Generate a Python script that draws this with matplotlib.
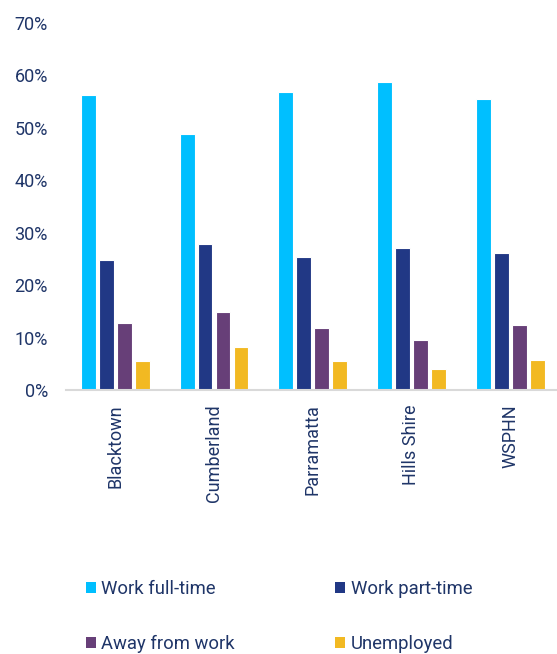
import matplotlib.pyplot as plt
import numpy as np
from matplotlib.patches import Patch
from matplotlib.ticker import PercentFormatter

plt.rcParams['font.family'] = ['Roboto', 'DejaVu Sans']

regions = ['Blacktown', 'Cumberland', 'Parramatta', 'Hills Shire', 'WSPHN']
full_time = [56.2, 48.8, 56.8, 58.8, 55.5]
part_time = [24.8, 27.8, 25.5, 27.1, 26.1]
away = [12.9, 15.0, 11.9, 9.7, 12.4]
unemployed = [5.7, 8.2, 5.6, 4.0, 5.8]

series = ['Work full-time', 'Work part-time', 'Away from work', 'Unemployed']
colors = ['#00BFFF', '#213885', '#673F78', '#F2B922']
text_col = '#1F3568'

fig = plt.figure(figsize=(5.57, 6.54), dpi=100)
ax = fig.add_axes([0.1185, 0.403, 0.886, 0.562])

x = np.arange(len(regions))
step = 0.182
w = 0.15
for i, (vals, c) in enumerate(zip([full_time, part_time, away, unemployed], colors)):
    ax.bar(x + (i - 1.5) * step, vals, w, color=c, edgecolor='white', linewidth=0.8)

ax.set_xlim(-0.5, len(regions) - 0.5)
ax.set_ylim(0, 70)
ax.set_yticks(np.arange(0, 71, 10))
ax.yaxis.set_major_formatter(PercentFormatter(decimals=0))
ax.set_xticks(x)
ax.set_xticklabels(regions, rotation=90)

for s in ['top', 'right', 'left']:
    ax.spines[s].set_visible(False)
ax.spines['bottom'].set_color('#D9D9D9')
ax.spines['bottom'].set_linewidth(1.5)
ax.tick_params(axis='both', length=0, colors=text_col, labelsize=13)
ax.tick_params(axis='y', pad=13)
ax.tick_params(axis='x', pad=10)

# legend fills column-wise, so reorder to read across rows
order = [0, 2, 1, 3]
handles = [Patch(facecolor=colors[i], edgecolor='none') for i in order]
labels = [series[i] for i in order]
fig.legend(handles, labels, loc='upper left', bbox_to_anchor=(0.154, 0.1125),
           ncol=2, frameon=False, fontsize=13.3, labelcolor=text_col,
           handlelength=0.55, handleheight=0.55, handletextpad=0.3,
           labelspacing=2.0, columnspacing=5.4, borderpad=0, borderaxespad=0)

fig.savefig('out.png', dpi=100)
